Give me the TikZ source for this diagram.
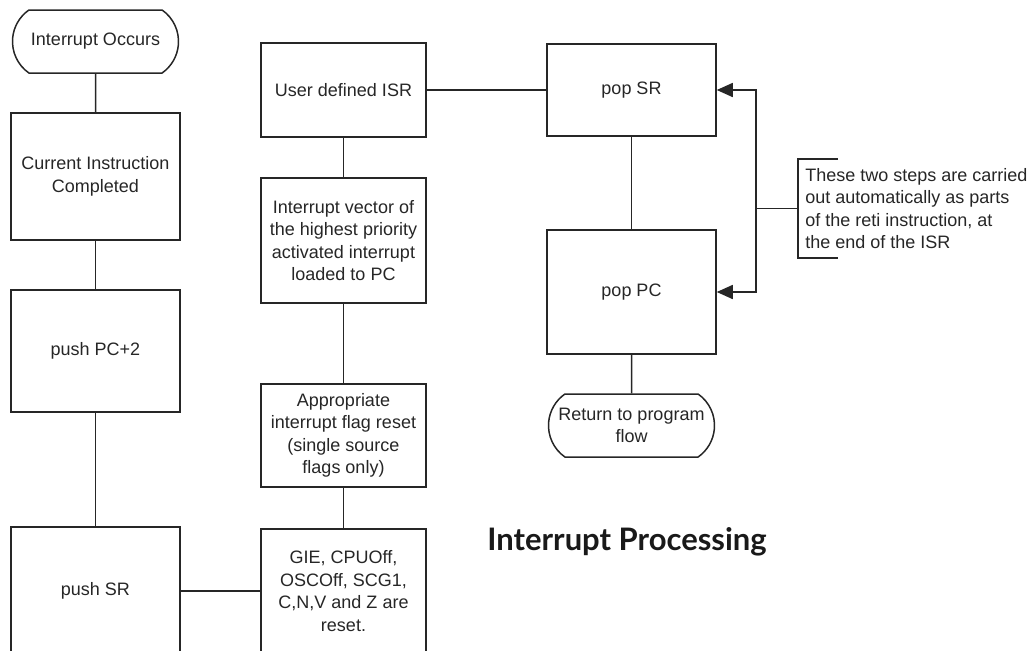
\documentclass[tikz,border=0pt]{standalone}
\usepackage{fontspec}
\setmainfont{Liberation Sans}
\newfontfamily\titlefont{Lato}
\usetikzlibrary{shapes.misc,arrows.meta}
\definecolor{ink}{HTML}{262626}
\tikzset{
 every node/.style={font=\fontsize{9}{11.25}\selectfont, text=ink},
 stepbox/.style={draw=ink, line width=0.75pt, align=center, minimum width=84.5pt, inner sep=1pt},
 midbox/.style={stepbox, minimum width=82.5pt},
 term/.style={draw=ink, line width=0.75pt, rounded rectangle, rounded rectangle arc length=110,
  align=center, minimum width=85pt, minimum height=31.5pt, inner sep=1pt},
 link/.style={draw=ink, line width=0.75pt},
 arr/.style={link, -{Triangle[length=8pt,width=7pt]}}
}
\begin{document}
\begin{tikzpicture}[x=0.5pt,y=-0.5pt]
 \useasboundingbox (0,0) rectangle (1033,650);
 \clip (0,0) rectangle (1033,650);
 % left column
 \node[term] (occ) at (95.5,41.5) {Interrupt Occurs};
 \node[stepbox, minimum height=63.5pt] (cur) at (95.5,176.5) {Current Instruction\\Completed};
 \node[stepbox, minimum height=61pt] (pc2) at (95.5,351) {push PC+2};
 \node[stepbox, minimum height=64pt] (psr) at (95.5,591) {push SR};
 % middle column
 \node[midbox, minimum height=47pt] (isr) at (343.5,90) {User defined ISR};
 \node[midbox, minimum height=62.5pt] (vec) at (343.5,240.5)
  {Interrupt vector of\\the highest priority\\activated interrupt\\loaded to PC};
 \node[midbox, minimum height=51.5pt] (flag) at (343.5,435.5)
  {Appropriate\\interrupt flag reset\\(single source\\flags only)};
 \node[midbox, minimum height=62pt] (gie) at (343.5,591)
  {GIE, CPUOff,\\OSCOff, SCG1,\\C,N,V and Z are\\reset.};
 % right column
 \node[stepbox, minimum height=46pt] (popsr) at (631.5,90) {pop SR};
 \node[stepbox, minimum height=62pt] (poppc) at (631.5,292) {pop PC};
 \node[term] (ret) at (631.5,425.5) {Return to program\\flow};
 % note
 \coordinate (brk) at (798,208.5);
 \coordinate (junc) at (756,208.5);
 \node[anchor=west, align=left, inner sep=1pt] (note) at (803,208.5)
  {These two steps are carried\\out automatically as parts\\of the reti instruction, at\\the end of the ISR};
 \node[font=\titlefont\bfseries\fontsize{15.5}{18}\selectfont, text=black!90, anchor=base west, inner sep=0pt]
  (title) at (487,550) {Interrupt Processing};
 % connectors
 \draw[link] (occ) -- (cur);
 \draw[link] (cur) -- (pc2);
 \draw[link] (pc2) -- (psr);
 \draw[link] (psr) -- (gie);
 \draw[link] (gie) -- (flag);
 \draw[link] (flag) -- (vec);
 \draw[link] (vec) -- (isr);
 \draw[link] (isr) -- (popsr);
 \draw[link] (popsr) -- (poppc);
 \draw[link] (poppc) -- (ret);
 \draw[link] (brk) -- (junc);
 \draw[arr] (junc) |- (popsr.east);
 \draw[arr] (junc) |- (poppc.east);
 \draw[link] (brk) ++(40,-49.5) -- ++(-40,0) -- ++(0,99) -- ++(40,0);
\end{tikzpicture}
\end{document}
